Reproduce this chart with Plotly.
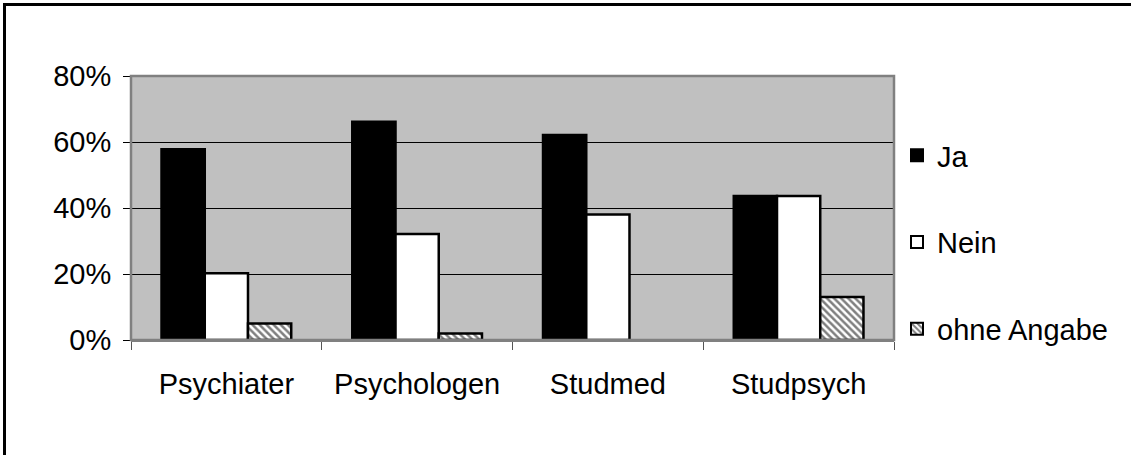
import plotly.graph_objects as go

# Survey answers per group (percent of respondents)
categories = ["Psychiater", "Psychologen", "Studmed", "Studpsych"]
ja = [57.8, 66.1, 62.1, 43.6]
nein = [20.2, 32.1, 38.0, 43.6]
ohne_angabe = [5.0, 2.0, 0.0, 13.0]
y_ticks = [0, 20, 40, 60, 80]
y_tick_labels = ["0%", "20%", "40%", "60%", "80%"]

W, H = 1131, 455
L, R, T, B = 131, 237, 76, 115
pw, ph = W - L - R, H - T - B

FONT = dict(family="Liberation Sans, Arial, sans-serif", size=29, color="black")


def outline(values, width=2.5):
    # no outline on empty bars, so a zero value leaves no stray line
    return [width if v > 0 else 0 for v in values]


fig = go.Figure()
fig.add_trace(go.Bar(
    name="Ja", x=categories, y=ja, legendgroup="ja",
    marker=dict(color="black", line=dict(color="black", width=outline(ja))),
))
fig.add_trace(go.Bar(
    name="Nein", x=categories, y=nein, legendgroup="nein",
    marker=dict(color="white", line=dict(color="black", width=outline(nein))),
))
fig.add_trace(go.Bar(
    name="ohne Angabe", x=categories, y=ohne_angabe, legendgroup="ohne",
    marker=dict(
        color="white",
        line=dict(color="black", width=outline(ohne_angabe)),
        pattern=dict(shape="\\", fgcolor="black", bgcolor="white",
                     size=5, solidity=0.5),
    ),
))


def px_x(x):
    return (x - L) / pw


def px_y(y):
    return 1 - (y - T) / ph


fig.update_layout(
    width=W, height=H,
    margin=dict(l=L, r=R, t=T, b=B, pad=0),
    paper_bgcolor="white",
    plot_bgcolor="#C0C0C0",
    font=FONT,
    barmode="group",
    bargap=0.32,
    bargroupgap=0,
    showlegend=True,
    legend=dict(
        x=px_x(897), y=px_y(130), xanchor="left", yanchor="top",
        bgcolor="rgba(0,0,0,0)", font=FONT,
        tracegroupgap=46, itemsizing="constant",
    ),
    xaxis=dict(
        type="category",
        showgrid=False,
        showline=True, linecolor="#808080", linewidth=2,
        ticks="outside", tickson="boundaries", ticklen=8,
        tickcolor="#555555", tickwidth=1,
        ticklabelstandoff=17,
        tickfont=FONT,
    ),
    yaxis=dict(
        range=[0, 80],
        tickvals=y_ticks, ticktext=y_tick_labels,
        showgrid=True, gridcolor="black", gridwidth=1,
        showline=False,
        ticks="outside", ticklen=7, tickcolor="black", tickwidth=1,
        ticklabelstandoff=6,
        tickfont=FONT,
        zeroline=False,
    ),
    shapes=[
        # plot area border
        dict(type="rect", xref="paper", yref="paper", x0=0, x1=1, y0=0, y1=1,
             line=dict(color="#808080", width=2.5), layer="above"),
        # outer chart frame
        dict(type="rect", xref="paper", yref="paper",
             x0=px_x(4.5), x1=px_x(W + 20), y0=px_y(H + 20), y1=px_y(4.5),
             line=dict(color="black", width=3), layer="above"),
    ],
)

fig.write_html("out.html")
